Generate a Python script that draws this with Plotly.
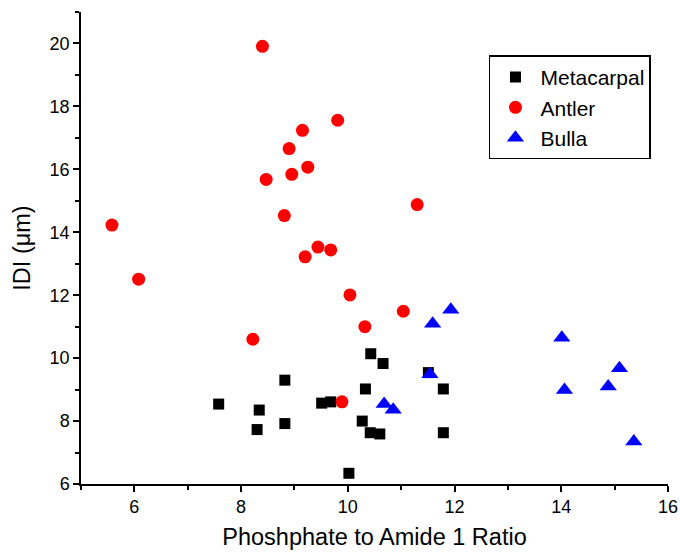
import plotly.graph_objects as go

# Metacarpal
meta_x = [7.58, 8.34, 8.30, 8.82, 8.82, 9.51, 9.68, 10.33, 10.43, 10.66, 10.27, 10.42, 10.60, 11.51, 11.79, 11.79, 10.02]
meta_y = [8.54, 8.35, 7.73, 9.30, 7.92, 8.57, 8.61, 9.02, 10.14, 9.83, 8.00, 7.63, 7.59, 9.54, 9.02, 7.63, 6.34]

# Antler
antler_x = [5.58, 6.08, 8.40, 8.47, 8.81, 8.90, 8.95, 9.15, 9.25, 9.20, 9.44, 9.68, 9.81, 8.22, 10.04, 10.32, 11.04, 11.30, 9.89]
antler_y = [14.23, 12.51, 19.91, 15.68, 14.53, 16.66, 15.84, 17.24, 16.07, 13.22, 13.53, 13.44, 17.56, 10.60, 12.01, 11.00, 11.49, 14.88, 8.61]

# Bulla
bulla_x = [11.59, 11.93, 11.54, 10.68, 10.85, 14.01, 14.06, 14.88, 15.09, 15.36]
bulla_y = [11.09, 11.54, 9.49, 8.54, 8.36, 10.65, 8.99, 9.10, 9.68, 7.35]

FONT = "Arial, Liberation Sans, sans-serif"

fig = go.Figure()
fig.add_trace(go.Scatter(x=meta_x, y=meta_y, mode="markers", name="Metacarpal",
                         marker=dict(symbol="square", size=11, color="black")))
fig.add_trace(go.Scatter(x=antler_x, y=antler_y, mode="markers", name="Antler",
                         marker=dict(symbol="circle", size=13, color="red")))
fig.add_trace(go.Scatter(x=bulla_x, y=bulla_y, mode="markers", name="Bulla",
                         marker=dict(symbol="triangle-up", size=15, color="blue")))

axis_common = dict(
    showline=True, linecolor="black", linewidth=1.5, mirror=False,
    ticks="outside", ticklen=6, tickwidth=1.5, tickcolor="black",
    showgrid=False, zeroline=False, automargin=False,
    tickfont=dict(family=FONT, size=18, color="black"),
)

fig.update_layout(
    width=680, height=558,
    margin=dict(l=81, r=12, t=12, b=74),
    paper_bgcolor="white", plot_bgcolor="white",
    font=dict(family=FONT, color="black"),
    xaxis=dict(range=[5, 16], dtick=2, tick0=0,
               minor=dict(dtick=1, tick0=0, ticks="outside", ticklen=4, tickwidth=1.5, tickcolor="black", showgrid=False),
               title=dict(text="Phoshphate to Amide 1 Ratio", font=dict(family=FONT, size=23.5), standoff=12),
               **axis_common),
    yaxis=dict(range=[6, 21], dtick=2, tick0=0,
               minor=dict(dtick=1, tick0=0, ticks="outside", ticklen=4, tickwidth=1.5, tickcolor="black", showgrid=False),
               title=dict(text="IDI (μm)", font=dict(family=FONT, size=23.5), standoff=12),
               **axis_common),
    legend=dict(x=0.695, y=0.908, xanchor="left", yanchor="top",
                bordercolor="black", borderwidth=1.5, bgcolor="white",
                font=dict(family=FONT, size=21, color="black"),
                itemwidth=40, tracegroupgap=0),
    showlegend=True,
)

fig.write_html("out.html")
